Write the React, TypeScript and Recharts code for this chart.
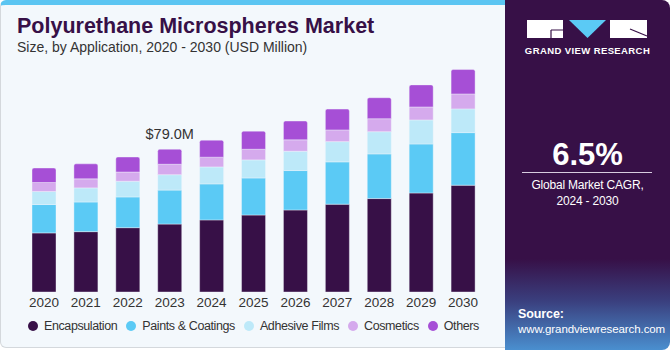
import React from 'react'
import { BarChart, Bar, XAxis, YAxis, Legend, LabelList } from 'recharts'

const years = ['2020', '2021', '2022', '2023', '2024', '2025', '2026', '2027', '2028', '2029', '2030']
const encapsulation = [32.7, 33.4, 35.6, 37.6, 39.9, 42.6, 45.4, 48.6, 51.7, 54.8, 59.1]
const paintsCoatings = [15.7, 16.4, 17.0, 18.8, 19.9, 20.5, 21.8, 23.4, 24.7, 27.1, 29.1]
const adhesiveFilms = [7.2, 7.8, 8.7, 8.5, 9.4, 10.0, 10.7, 11.2, 12.3, 13.3, 13.1]
const cosmetics = [5.0, 5.0, 5.1, 5.8, 5.4, 5.9, 6.3, 6.5, 7.2, 7.2, 8.3]
const others = [8.0, 8.3, 8.3, 8.3, 9.4, 10.0, 10.4, 11.5, 11.6, 12.2, 13.5]

const series = [
	{ key: 'enc', name: 'Encapsulation', color: '#371047' },
	{ key: 'paint', name: 'Paints & Coatings', color: '#5bcaf5' },
	{ key: 'adh', name: 'Adhesive Films', color: '#bde9f9' },
	{ key: 'cos', name: 'Cosmetics', color: '#d5aaed' },
	{ key: 'oth', name: 'Others', color: '#a64fd6' },
]

const data = years.map((y, i) => ({
	year: y,
	enc: encapsulation[i],
	paint: paintsCoatings[i],
	adh: adhesiveFilms[i],
	cos: cosmetics[i],
	oth: others[i],
}))

const font = '"Liberation Sans", Arial, sans-serif'

// only 2023 gets the total label
const TotalLabel = (props: any) => {
	const { x, y, width, index } = props
	if (index !== 3) return null
	return (
		<text x={x + width / 2} y={y - 10} textAnchor="middle" fontSize={14.5} fill="#333" fontFamily={font}>
			$79.0M
		</text>
	)
}

const LegendBox = () => (
	<div style={{ display: 'flex', alignItems: 'center', fontFamily: font, fontSize: 12.5, color: '#333', whiteSpace: 'nowrap', width: 480, letterSpacing: -0.4 }}>
		{series.map((s) => (
			<div key={s.key} style={{ display: 'flex', alignItems: 'center', marginRight: 9, flexShrink: 0 }}>
				<span style={{ width: 10, height: 10, borderRadius: 5, background: s.color, marginRight: 6, flexShrink: 0 }} />
				{s.name}
			</div>
		))}
	</div>
)

const Logo = () => (
	<svg width={122} height={20} style={{ display: 'block' }}>
		<rect x={0} y={0} width={36} height={18} fill="#fff" />
		<path d="M24 10 H36 M24 10 V18" stroke="#371047" strokeWidth={1.2} />
		<polygon points="42,0 79,0 60.5,18" fill="#5bcaf5" />
		<rect x={83} y={0} width={37} height={18} fill="#fff" />
		<path d="M103 9 L120 16" stroke="#371047" strokeWidth={1.2} />
	</svg>
)

export default function App() {
	return (
		<div style={{ position: 'fixed', left: 0, top: 0, width: 670, height: 350, background: '#fff', overflow: 'hidden' }}>
			<div
				style={{
					position: 'absolute',
					left: 0,
					top: 0,
					width: 520,
					height: 348,
					background: '#f3f8fc',
					border: '1px solid #d4d8dc',
					borderTop: '5px solid #5bc5f2',
					borderRadius: 6,
					boxSizing: 'border-box',
				}}
			/>
			<div style={{ position: 'absolute', left: 17, top: 14, fontFamily: font, fontWeight: 900, fontSize: 21.5, color: '#371047' }}>
				Polyurethane Microspheres Market
			</div>
			<div style={{ position: 'absolute', left: 17, top: 39, fontFamily: font, fontSize: 14, color: '#333' }}>
				Size, by Application, 2020 - 2030 (USD Million)
			</div>
			<div style={{ position: 'absolute', left: 0, top: 0 }}>
				<BarChart width={505} height={350} data={data} margin={{ top: 39, right: 21, left: 23, bottom: 28 }} barSize={24}>
					<XAxis
						dataKey="year"
						height={30}
						axisLine={false}
						tickLine={false}
						tickSize={0}
						tickMargin={5}
						interval={0}
						tick={{ fontSize: 13.5, fill: '#333', fontFamily: font }}
					/>
					<YAxis hide domain={[0, 140]} />
					{series.map((s, i) => (
						<Bar
							key={s.key}
							dataKey={s.key}
							name={s.name}
							stackId="a"
							fill={s.color}
							stroke="#f3f8fc"
							strokeWidth={0.4}
							radius={i === series.length - 1 ? [2, 2, 0, 0] : 0}
							isAnimationActive={false}
						>
							{i === series.length - 1 && <LabelList dataKey="oth" content={TotalLabel} />}
						</Bar>
					))}
					<Legend
						layout="horizontal"
						verticalAlign="middle"
						align="center"
						content={() => <LegendBox />}
						wrapperStyle={{ top: 319, left: 28, width: 480 }}
					/>
				</BarChart>
			</div>
			<div
				style={{
					position: 'absolute',
					left: 505,
					top: 0,
					width: 165,
					height: 350,
					borderRadius: '0 8px 8px 0',
					background: 'linear-gradient(180deg, #371047 0%, #371047 74%, #3a3f7e 86%, #4a8fcf 100%)',
					color: '#fff',
					fontFamily: font,
				}}
			>
				<div style={{ position: 'absolute', left: 22, top: 20 }}>
					<Logo />
				</div>
				<div style={{ position: 'absolute', left: 0, width: 165, top: 45, textAlign: 'center', fontSize: 9.5, fontWeight: 700, letterSpacing: 0.4 }}>
					GRAND VIEW RESEARCH
				</div>
				<div style={{ position: 'absolute', left: 0, width: 165, top: 137, textAlign: 'center', fontSize: 31, fontWeight: 700 }}>
					6.5%
				</div>
				<div style={{ position: 'absolute', left: 17, width: 130, top: 172, height: 1, background: '#d8cce0' }} />
				<div style={{ position: 'absolute', left: 0, width: 165, top: 177, textAlign: 'center', fontSize: 12, lineHeight: '16px', letterSpacing: -0.2 }}>
					Global Market CAGR,
					<br />
					2024 - 2030
				</div>
				<div style={{ position: 'absolute', left: 13, top: 307, fontSize: 11.5, lineHeight: '15px', letterSpacing: -0.1 }}>
					<b style={{ fontSize: 12.5 }}>Source:</b>
					<br />
					www.grandviewresearch.com
				</div>
			</div>
		</div>
	)
}
